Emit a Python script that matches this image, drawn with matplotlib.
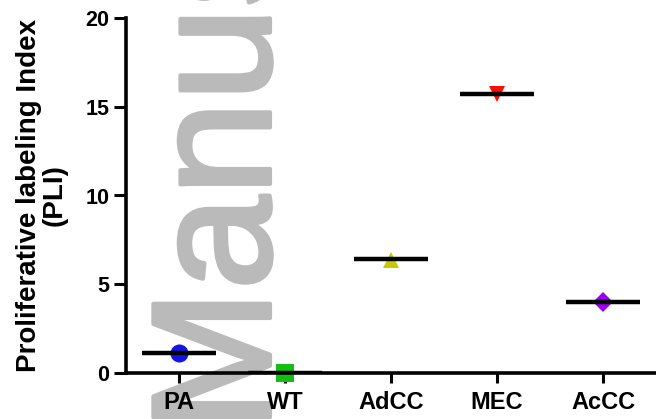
import matplotlib
matplotlib.use("Agg")
import matplotlib.pyplot as plt
import matplotlib.patheffects as pe

categories = ["PA", "WT", "AdCC", "MEC", "AcCC"]
point_values = [1.1, 0.0, 6.35, 15.7, 4.0]
median_values = [1.15, 0.0, 6.42, 15.72, 3.98]
colors = ["#1414e6", "#14be14", "#c8c800", "#ff0a0a", "#9a00f0"]
markers = ["o", "s", "^", "v", "D"]
marker_sizes = [13, 12.5, 12, 12, 10]
yticks = [0, 5, 10, 15, 20]

plt.rcParams['font.family'] = ['Liberation Sans', 'DejaVu Sans']

fig = plt.figure(figsize=(6.56, 4.19), dpi=100)
ax = fig.add_axes([126/656, 46/419, 530/656, 355/419])
ax.patch.set_alpha(0)

# watermark behind the chart
fig.text(270/656, -12/419, "Manuscript", rotation=90, rotation_mode='anchor',
         ha='left', va='baseline', fontsize=122, color="#bababa", zorder=-5,
         family=['Liberation Sans', 'DejaVu Sans'],
         path_effects=[pe.withStroke(linewidth=3, foreground="#bababa")])

x = list(range(len(categories)))
for xi, v, m, c, ms in zip(x, point_values, markers, colors, marker_sizes):
    ax.plot([xi], [v], marker=m, color=c, markersize=ms, linestyle='none',
            markeredgewidth=0, zorder=3, clip_on=False)
for xi, med in zip(x, median_values):
    ax.hlines(med, xi - 0.35, xi + 0.35, color='black', linewidth=3.2, zorder=4)

ax.set_xlim(-0.5, 4.5)
ax.set_ylim(0, 20)
ax.set_yticks(yticks)
ax.set_yticklabels([str(t) for t in yticks], fontsize=15.5, fontweight='bold')
ax.set_xticks(x)
ax.set_xticklabels(categories, fontsize=17, fontweight='bold')

for s in ['top', 'right']:
    ax.spines[s].set_visible(False)
for s in ['left', 'bottom']:
    ax.spines[s].set_linewidth(2.6)
    ax.spines[s].set_zorder(5)

ax.tick_params(axis='y', length=9, width=2.2, pad=3)
ax.tick_params(axis='x', length=7, width=2.2, pad=6)

ax.set_ylabel("Proliferative labeling Index\n(PLI)", fontsize=20, fontweight='bold',
              linespacing=1.0)
ax.yaxis.set_label_coords(-0.11, 0.5)

fig.savefig("out.png", dpi=100)
